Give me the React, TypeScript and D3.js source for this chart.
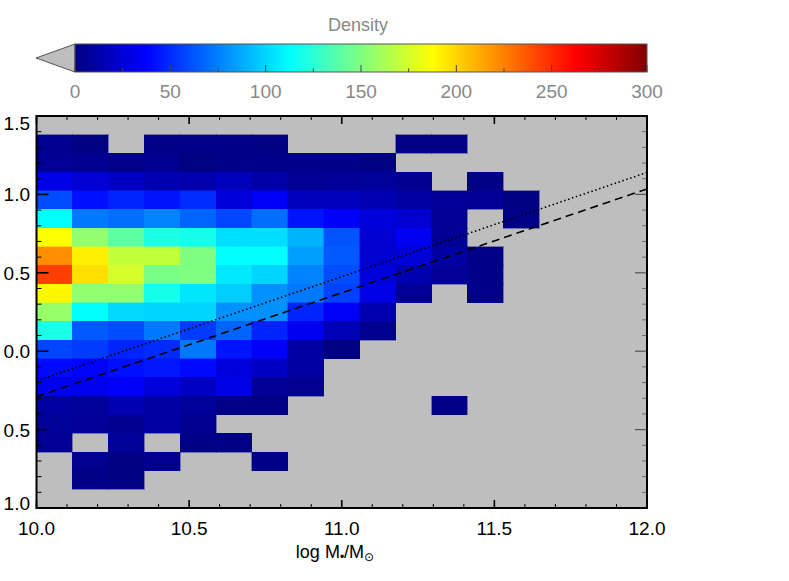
import React from "react";
import * as d3 from "d3";

// ---- data ----
const xDomain = [10, 12];
const yDomain = [-1, 1.5];
const nXBins = 17;
const nYBins = 21;
// density per cell, rows from top (y=1.5) to bottom (y=-1.0), columns from x=10 to 12; 0 = empty
const density: number[][] = [
  [0, 0, 0, 0, 0, 0, 0, 0, 0, 0, 0, 0, 0, 0, 0, 0, 0],
  [4, 1, 0, 3, 3, 3, 1, 0, 0, 0, 2, 2, 0, 0, 0, 0, 0],
  [6, 5, 3, 5, 1, 3, 3, 3, 3, 1, 0, 0, 0, 0, 0, 0, 0],
  [30, 25, 20, 15, 14, 18, 12, 6, 7, 8, 5, 0, 2, 0, 0, 0, 0],
  [60, 42, 48, 43, 50, 27, 36, 18, 18, 15, 11, 7, 6, 1, 0, 0, 0],
  [113, 73, 70, 76, 67, 58, 70, 43, 36, 27, 24, 6, 0, 2, 0, 0, 0],
  [187, 155, 140, 120, 118, 103, 103, 90, 62, 24, 34, 6, 0, 0, 0, 0, 0],
  [221, 192, 170, 170, 150, 113, 113, 84, 64, 24, 26, 11, 3, 0, 0, 0, 0],
  [244, 197, 175, 148, 150, 106, 100, 76, 60, 27, 14, 7, 3, 0, 0, 0, 0],
  [190, 155, 155, 118, 105, 98, 80, 73, 57, 30, 6, 0, 3, 0, 0, 0, 0],
  [157, 113, 101, 100, 100, 80, 80, 48, 35, 14, 0, 0, 0, 0, 0, 0, 0],
  [120, 64, 60, 73, 55, 67, 48, 33, 16, 4, 0, 0, 0, 0, 0, 0, 0],
  [58, 55, 48, 50, 73, 43, 36, 10, 1, 0, 0, 0, 0, 0, 0, 0, 0],
  [40, 38, 42, 44, 40, 28, 20, 10, 0, 0, 0, 0, 0, 0, 0, 0, 0],
  [33, 32, 36, 27, 20, 30, 7, 5, 0, 0, 0, 0, 0, 0, 0, 0, 0],
  [10, 8, 15, 11, 8, 2, 2, 0, 0, 0, 0, 2, 0, 0, 0, 0, 0],
  [8, 7, 4, 10, 4, 0, 0, 0, 0, 0, 0, 0, 0, 0, 0, 0, 0],
  [6, 0, 8, 0, 2, 2, 0, 0, 0, 0, 0, 0, 0, 0, 0, 0, 0],
  [0, 4, 1, 4, 0, 0, 2, 0, 0, 0, 0, 0, 0, 0, 0, 0, 0],
  [0, 2, 1, 0, 0, 0, 0, 0, 0, 0, 0, 0, 0, 0, 0, 0, 0],
  [0, 0, 0, 0, 0, 0, 0, 0, 0, 0, 0, 0, 0, 0, 0, 0, 0],
];
const lineX = [10, 12];
const dottedY = [-0.19, 1.14];
const dashedY = [-0.29, 1.035];
const xMajorTicks = [10, 10.5, 11, 11.5, 12];
const yMajorTicks = [-1, -0.5, 0, 0.5, 1, 1.5];
// y tick labels as they appear in the reference (the minus signs fall outside the image there)
const yTickLabels = ["1.0", "0.5", "0.0", "0.5", "1.0", "1.5"];
const cbarDomain = [0, 300];
const cbarTicks = [0, 50, 100, 150, 200, 250, 300];
const jetStops = [0, 37.5, 112.5, 187.5, 262.5, 300];
const jetColors = ["#000080", "#0000ff", "#00ffff", "#ffff00", "#ff0000", "#800000"];

// ---- layout ----
const W = 789, H = 581;
const L = 36.5, R = 647, T = 116, B = 508;
const CB = { x0: 75, x1: 647, y0: 44, y1: 72, tip: 36 };

export default function App() {
  const x = d3.scaleLinear().domain(xDomain).range([L, R]);
  const y = d3.scaleLinear().domain(yDomain).range([B, T]);
  const color = d3.scaleLinear<string>().domain(jetStops).range(jetColors).clamp(true);
  const cb = d3.scaleLinear().domain(cbarDomain).range([CB.x0, CB.x1]);
  const dx = (xDomain[1] - xDomain[0]) / nXBins;
  const dy = (yDomain[1] - yDomain[0]) / nYBins;
  const fmt = d3.format(".1f");

  const cells: React.ReactNode[] = [];
  density.forEach((row, r) => {
    row.forEach((v, c) => {
      if (v <= 0) return;
      const x0 = x(xDomain[0] + c * dx), x1 = x(xDomain[0] + (c + 1) * dx);
      const yt = y(yDomain[1] - r * dy), yb = y(yDomain[1] - (r + 1) * dy);
      cells.push(
        <rect key={`${r}-${c}`} x={x0} y={yt} width={x1 - x0} height={yb - yt}
          fill={color(v)} stroke={color(v)} strokeWidth={0.4} />
      );
    });
  });

  const line = d3.line<number>().x((_, i) => x(lineX[i])).y((d) => y(d));
  const xMinor = d3.range(10, 12.0001, 0.1).map((v) => +v.toFixed(2));
  const yMinor = d3.range(-1, 1.5001, 0.1).map((v) => +v.toFixed(2));
  const cbMinor = d3.range(0, 301, 25);

  return (
    <svg width={W} height={H} style={{ position: "absolute", left: 0, top: 0, background: "#fff" }}
      fontFamily="'Liberation Sans', Arial, sans-serif">
      <defs>
        <linearGradient id="jet" x1="0" x2="1" y1="0" y2="0">
          {jetStops.map((s, i) => (
            <stop key={i} offset={(s - cbarDomain[0]) / (cbarDomain[1] - cbarDomain[0])} stopColor={jetColors[i]} />
          ))}
        </linearGradient>
        <clipPath id="plotclip"><rect x={L} y={T} width={R - L} height={B - T} /></clipPath>
      </defs>

      {/* colorbar */}
      <text x={358} y={31} textAnchor="middle" fontSize={18} fill="#888">Density</text>
      <polygon points={`${CB.tip},${(CB.y0 + CB.y1) / 2} ${CB.x0},${CB.y0} ${CB.x0},${CB.y1}`}
        fill="#bebebe" stroke="#555" strokeWidth={1} />
      <rect x={CB.x0} y={CB.y0} width={CB.x1 - CB.x0} height={CB.y1 - CB.y0} fill="url(#jet)" stroke="#555" strokeWidth={1} />
      {cbMinor.map((v) => (
        <line key={v} x1={cb(v)} x2={cb(v)} y1={CB.y1} y2={CB.y1 - (v % 50 === 0 ? 7 : 3.5)} stroke="#444" strokeWidth={1} />
      ))}
      {cbarTicks.map((v) => (
        <text key={v} x={cb(v)} y={98} textAnchor="middle" fontSize={19} fill="#888">{v}</text>
      ))}

      {/* plot */}
      <rect x={L} y={T} width={R - L} height={B - T} fill="#bebebe" />
      <g shapeRendering="crispEdges">{cells}</g>
      <g clipPath="url(#plotclip)">
        <path d={line(dottedY) || ""} fill="none" stroke="#000" strokeWidth={1.6} strokeDasharray="1.5,2.6" />
        <path d={line(dashedY) || ""} fill="none" stroke="#000" strokeWidth={1.6} strokeDasharray="8,5" />
      </g>

      {/* ticks */}
      {xMinor.map((v) => {
        const major = xMajorTicks.some((m) => Math.abs(m - v) < 1e-6);
        const len = major ? 8 : 4;
        return (
          <g key={`xt${v}`} stroke="#000" strokeWidth={1}>
            <line x1={x(v)} x2={x(v)} y1={B} y2={B - len} strokeWidth={major ? 1.6 : 1} />
            <line x1={x(v)} x2={x(v)} y1={T} y2={T + len} strokeWidth={major ? 1.6 : 1} />
          </g>
        );
      })}
      {yMinor.map((v) => {
        const major = yMajorTicks.some((m) => Math.abs(m - v) < 1e-6);
        const len = major ? 12 : 5;
        return (
          <g key={`yt${v}`} stroke="#000">
            <line x1={L} x2={L + len} y1={y(v)} y2={y(v)} strokeWidth={major ? 1.6 : 1} />
            <line x1={R} x2={R - len} y1={y(v)} y2={y(v)} strokeWidth={major ? 1.2 : 0.8} stroke="#555" />
          </g>
        );
      })}
      <rect x={L} y={T} width={R - L} height={B - T} fill="none" stroke="#000" strokeWidth={2} />

      {xMajorTicks.map((v) => (
        <text key={`xl${v}`} x={x(v)} y={535} textAnchor="middle" fontSize={19} fill="#000">{fmt(v)}</text>
      ))}
      {yMajorTicks.map((v, i) => {
        const shift = i === yMajorTicks.length - 1 ? 7 : i === 0 ? -5 : 0;
        return (
          <text key={`yl${v}`} x={30} y={y(v) + 7 + shift} textAnchor="end" fontSize={19} fill="#000">{yTickLabels[i]}</text>
        );
      })}

      <text x={335} y={558} textAnchor="middle" fontSize={18} fill="#000">
        log M<tspan fontSize={12} dy={3}>•</tspan><tspan dy={-3}>/M</tspan>
        <tspan fontSize={12} dy={3} fontFamily="'DejaVu Sans'">⊙</tspan>
      </text>
    </svg>
  );
}
